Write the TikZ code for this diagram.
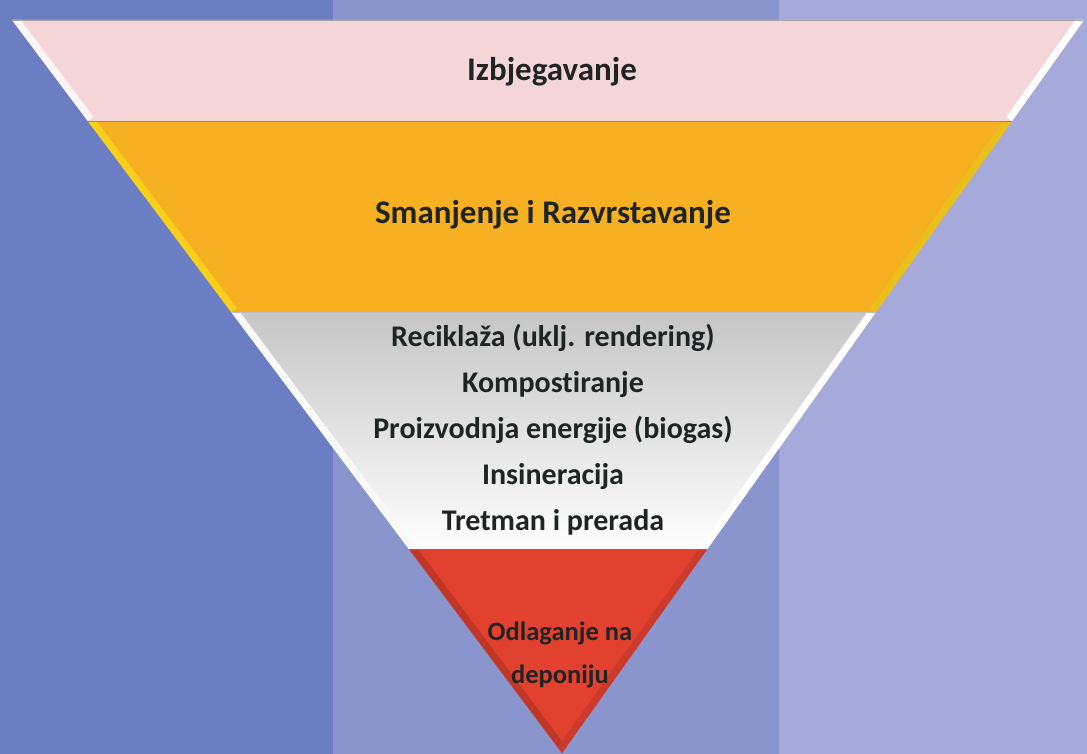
\documentclass[tikz,border=0pt]{standalone}
\usepackage{fontspec}
\setmainfont[Ligatures=NoCommon]{Carlito}
\usetikzlibrary{calc}

\definecolor{stripeL}{HTML}{6C7EC3}
\definecolor{stripeM}{HTML}{8A95CD}
\definecolor{stripeR}{HTML}{A5AADA}
\definecolor{avoidc}{HTML}{F5D6D8}
\definecolor{reducec}{HTML}{F6B021}
\definecolor{recyc}{HTML}{C6C6C6}
\definecolor{landc}{HTML}{E2412F}
\definecolor{txtc}{HTML}{1F2424}

\begin{document}
\begin{tikzpicture}[x=1pt, y=-1pt,
    heading/.style={font=\bfseries\fontsize{33}{36}\selectfont, text=txtc},
    listing/.style={font=\bfseries\fontsize{30}{46}\selectfont, text=txtc, align=center},
    bottomtxt/.style={font=\bfseries\fontsize{26.5}{43}\selectfont, text=txtc, align=center},
    bevel/.style={line width=14pt}]
  \useasboundingbox (0,0) rectangle (1087,754);
  % background stripes
  \fill[stripeL] (0,0) rectangle (333,754);
  \fill[stripeM] (333,0) rectangle (779,754);
  \fill[stripeR] (779,0) rectangle (1087,754);

  % corners of the funnel
  \coordinate (tl) at (12,20);
  \coordinate (tr) at (1084,20);
  \coordinate (apex) at (562,753);
  \coordinate (l1) at ($(tl)!0.138!(apex)$);
  \coordinate (r1) at ($(tr)!0.138!(apex)$);
  \coordinate (l2) at ($(tl)!0.399!(apex)$);
  \coordinate (r2) at ($(tr)!0.399!(apex)$);
  \coordinate (l3) at ($(tl)!0.7227!(apex)$);
  \coordinate (r3) at ($(tr)!0.7227!(apex)$);

  % Izbjegavanje
  \fill[avoidc] (tl) -- (tr) -- (r1) -- (l1) -- cycle;
  \begin{scope}
    \clip (tl) -- (tr) -- (r1) -- (l1) -- cycle;
    \draw[bevel, white!75!avoidc] (tl) -- (l1);
    \draw[bevel, white] (tr) -- (r1);
  \end{scope}

  % Smanjenje
  \fill[reducec] (l1) -- (r1) -- (r2) -- (l2) -- cycle;
  \begin{scope}
    \clip (l1) -- (r1) -- (r2) -- (l2) -- cycle;
    \draw[bevel, yellow!45!reducec] (l1) -- (l2);
    \draw[bevel, yellow!70!olive!40!reducec] (r1) -- (r2);
  \end{scope}

  % Reciklaza
  \shade[top color=recyc, bottom color=white] (l2) -- (r2) -- (r3) -- (l3) -- cycle;
  \begin{scope}
    \clip (l2) -- (r2) -- (r3) -- (l3) -- cycle;
    \draw[bevel, white!90!recyc] (l2) -- (l3);
    \draw[bevel, white] (r2) -- (r3);
  \end{scope}

  % Odlaganje
  \fill[landc] (l3) -- (r3) -- (apex) -- cycle;
  \begin{scope}
    \clip (l3) -- (r3) -- (apex) -- cycle;
    \draw[bevel, landc!85!black] (l3) -- (apex);
    \draw[bevel, landc!90!black] (r3) -- (apex);
  \end{scope}

  % seams
  \draw[black!35, line width=0.8pt] (tl) -- (tr);
  \draw[black!45, line width=1.2pt] (l1) -- (r1);
  \draw[black!25, line width=1pt] (l2) -- (r2);
  \draw[black!55, line width=1.5pt] (l3) -- (r3);

  % texts
  \node[heading] (avoid) at (552,72) {Izbjegavanje};
  \node[heading] (reduce) at (553,215) {Smanjenje i Razvrstavanje};
  \node[listing] (recycle) at (553,430) {Reciklaža (uklj. rendering)\\
    Kompostiranje\\ Proizvodnja energije (biogas)\\ Insineracija\\ Tretman i prerada};
  \node[bottomtxt] (landfill) at (560,655) {Odlaganje na\\ deponiju};
\end{tikzpicture}
\end{document}
